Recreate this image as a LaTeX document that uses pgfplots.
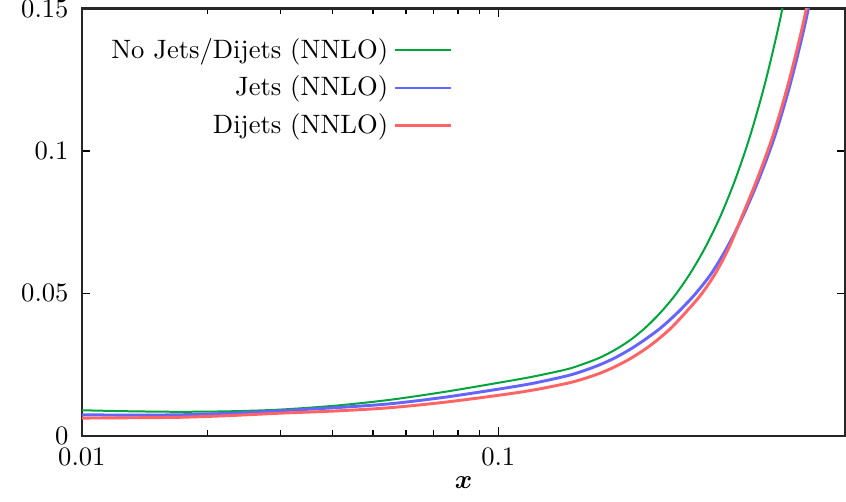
\documentclass[border=0pt]{standalone}
\usepackage{pgfplots}
\pgfplotsset{compat=1.18}
\usepackage{bm}
\definecolor{cgreen}{RGB}{0,165,60}
\definecolor{cblue}{RGB}{100,100,255}
\definecolor{cred}{RGB}{255,100,100}
\begin{document}
\begin{tikzpicture}
\begin{axis}[
  at={(0,0)}, anchor=south west,
  scale only axis,
  width=287.2pt, height=160.7pt,
  xmode=log,
  xmin=0.01, xmax=0.682,
  ymin=0, ymax=0.15,
  xtick={0.01,0.1},
  xticklabels={0.01,0.1},
  ytick={0,0.05,0.1,0.15},
  yticklabels={0,0.05,0.1,0.15},
  minor ytick={},
  tick pos=both,
  tick align=inside,
  major tick length=3.2pt,
  minor tick length=2pt,
  axis line style={line width=0.8pt, black!85},
  every tick/.style={black, line width=0.5pt},
  xlabel={$\bm{x}$},
  xlabel style={yshift=3pt},
  yticklabel style={xshift=-1.5pt},
  xticklabel style={yshift=-1pt},
  legend plot pos=right,
  legend cell align=right,
  legend image code/.code={\draw[#1] (0pt,0pt) -- (21pt,0pt);},
  legend style={at={(0.4857,1)}, anchor=north east, yshift=-9pt,
    draw=none, fill=none, inner sep=0pt, row sep=1.2pt,
    font=\normalsize},
]
\addplot[cgreen, line width=0.75pt, smooth] coordinates {
(0.01,0.00895) (0.013042,0.00860) (0.017197,0.00842) (0.022673,0.00860)
(0.029897,0.00919) (0.040533,0.01056) (0.054955,0.01263) (0.074473,0.01544)
(0.10094,0.01870) (0.12117,0.02077) (0.14603,0.02333) (0.15973,0.02516)
(0.17547,0.02744) (0.19069,0.03018) (0.20719,0.03354) (0.22510,0.03782)
(0.24452,0.04305) (0.26584,0.04937) (0.28872,0.05691) (0.31366,0.06596)
(0.34083,0.07677) (0.37031,0.08972) (0.40239,0.10523) (0.43718,0.12379)
(0.47484,0.14600) (0.51599,0.17260)
};
\addlegendentry{No Jets/Dijets (NNLO)}
\addplot[cblue, line width=1.1pt, smooth] coordinates {
(0.01,0.00737) (0.013042,0.00726) (0.017197,0.00737) (0.022673,0.00789)
(0.029897,0.00877) (0.040533,0.00986) (0.054955,0.01123) (0.074473,0.01354)
(0.10094,0.01646) (0.12117,0.01842) (0.14603,0.02102) (0.15973,0.02274)
(0.17547,0.02495) (0.19069,0.02737) (0.20719,0.03032) (0.22387,0.03354)
(0.24526,0.03782) (0.26869,0.04305) (0.29552,0.04937) (0.32464,0.05691)
(0.35390,0.06596) (0.38601,0.07677) (0.42150,0.08972) (0.46152,0.10523)
(0.50311,0.12379) (0.54814,0.14600) (0.59588,0.17260)
};
\addlegendentry{Jets (NNLO)}
\addplot[cred, line width=1.1pt, smooth] coordinates {
(0.01,0.00621) (0.013042,0.00632) (0.017197,0.00649) (0.022673,0.00709)
(0.029897,0.00793) (0.040533,0.00870) (0.054955,0.00986) (0.074473,0.01179)
(0.10094,0.01428) (0.12117,0.01604) (0.14603,0.01839) (0.15973,0.01993)
(0.17547,0.02196) (0.19069,0.02425) (0.20719,0.02702) (0.22510,0.03039)
(0.24055,0.03354) (0.25993,0.03782) (0.28083,0.04305) (0.30616,0.04937)
(0.33191,0.05691) (0.35784,0.06596) (0.38430,0.07677) (0.41755,0.08972)
(0.45645,0.10523) (0.49757,0.12379) (0.54211,0.14600) (0.58933,0.17260)
};
\addlegendentry{Dijets (NNLO)}
\end{axis}
\pgfresetboundingbox
\path[use as bounding box] (-30.8pt,-24.8pt) rectangle (287.4pt,163.9pt);
\end{tikzpicture}
\end{document}
